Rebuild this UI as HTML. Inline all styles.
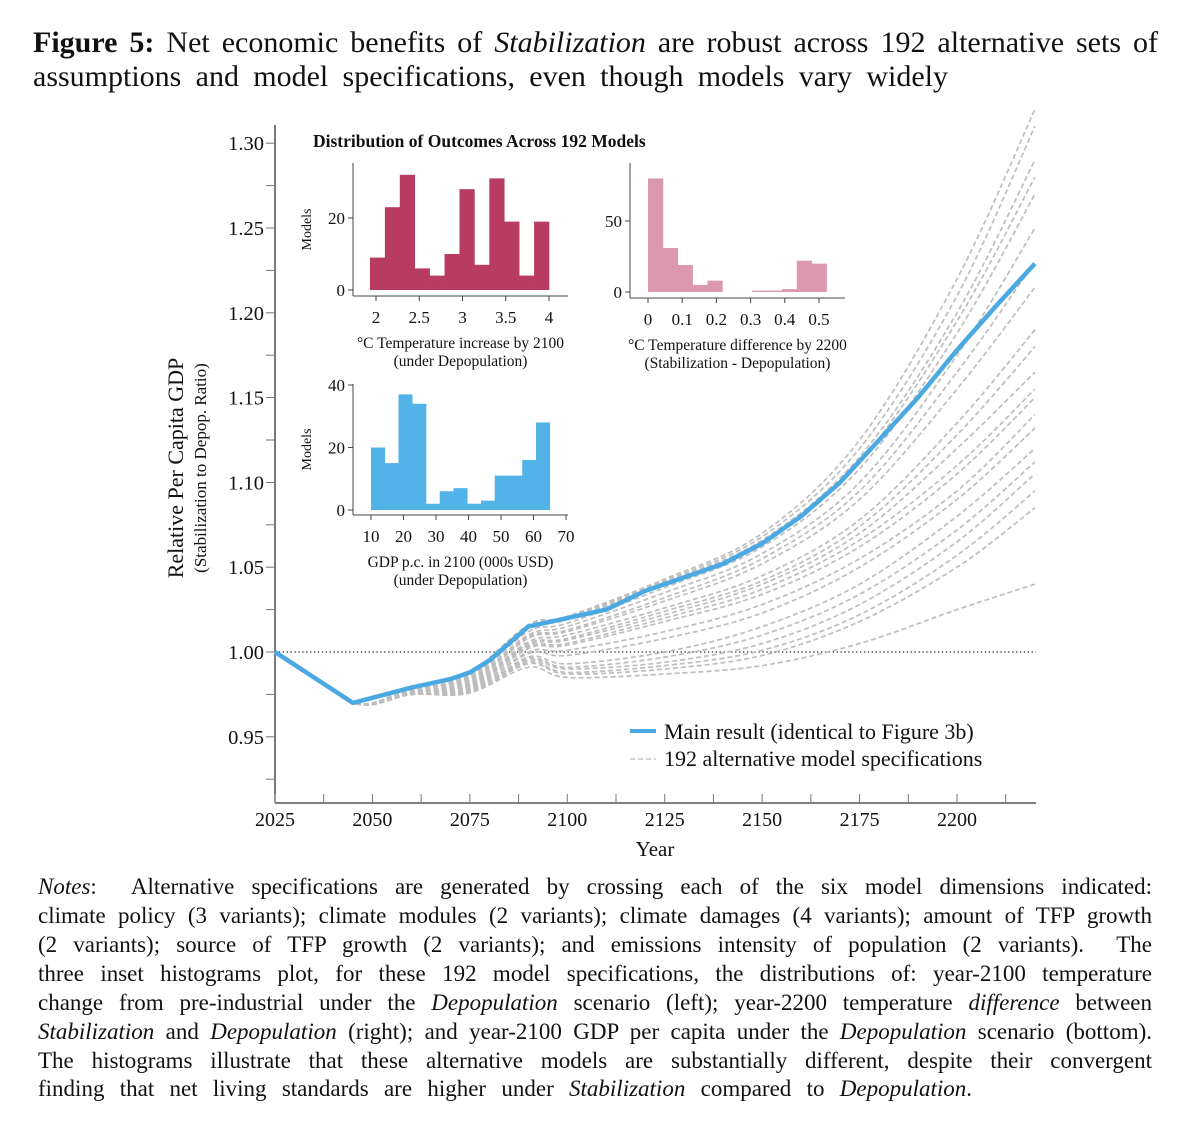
<!DOCTYPE html>
<html><head><meta charset="utf-8">
<style>
body{margin:0;background:#fff;width:1200px;height:1135px;overflow:hidden;position:relative;font-family:"Liberation Serif",serif;color:#111}
.ln{position:absolute;left:0;white-space:nowrap;text-align:justify;text-align-last:justify}
#title .ln{font-size:30px;left:33px;width:1125px}
#notes .ln{font-size:23px;left:38px;width:1114px}
svg{position:absolute;left:0;top:0}
svg text{font-family:"Liberation Serif",serif;fill:#111}
</style></head><body>
<div id="title">
<div class="ln" style="top:26px"><b>Figure 5:</b> Net economic benefits of <i>Stabilization</i> are robust across 192 alternative sets of</div>
<div class="ln" style="top:60px;width:915px">assumptions and model specifications, even though models vary widely</div>
</div>
<svg id="chart" width="1200" height="1135"></svg>
<div id="notes">
<div class="ln" style="top:874px"><i>Notes</i>: &nbsp;Alternative specifications are generated by crossing each of the six model dimensions indicated:</div>
<div class="ln" style="top:903px">climate policy (3 variants); climate modules (2 variants); climate damages (4 variants); amount of TFP growth</div>
<div class="ln" style="top:932px">(2 variants); source of TFP growth (2 variants); and emissions intensity of population (2 variants). &nbsp;The</div>
<div class="ln" style="top:961px">three inset histograms plot, for these 192 model specifications, the distributions of: year-2100 temperature</div>
<div class="ln" style="top:990px">change from pre-industrial under the <i>Depopulation</i> scenario (left); year-2200 temperature <i>difference</i> between</div>
<div class="ln" style="top:1019px"><i>Stabilization</i> and <i>Depopulation</i> (right); and year-2100 GDP per capita under the <i>Depopulation</i> scenario (bottom).</div>
<div class="ln" style="top:1048px">The histograms illustrate that these alternative models are substantially different, despite their convergent</div>
<div class="ln" style="top:1076px;width:934px">finding that net living standards are higher under <i>Stabilization</i> compared to <i>Depopulation</i>.</div>
</div>
<script>
// ---- main chart data ----
const mainYears=[2025,2045,2050,2060,2070,2075,2080,2090,2100,2110,2120,2130,2140,2150,2160,2170,2180,2190,2200,2210,2220];
const mainVals=[1,0.970,0.973,0.979,0.984,0.988,0.995,1.015,1.020,1.025,1.036,1.044,1.052,1.064,1.080,1.100,1.125,1.150,1.178,1.204,1.229];
const altYears=[2025,2045,2060,2075,2090,2100,2125,2150,2175,2200,2220];
const alt01=[1,0.970,0.979,0.988,1.016,1.021,1.043,1.070,1.125,1.220,1.320];
const alt02=[1,0.970,0.979,0.988,1.016,1.021,1.042,1.068,1.120,1.210,1.310];
const alt03=[1,0.970,0.979,0.987,1.015,1.020,1.041,1.066,1.115,1.200,1.290];
const alt04=[1,0.970,0.978,0.986,1.014,1.019,1.040,1.064,1.112,1.195,1.280];
const alt05=[1,0.970,0.978,0.985,1.012,1.017,1.038,1.062,1.108,1.188,1.270];
const alt06=[1,0.970,0.978,0.984,1.010,1.015,1.035,1.058,1.100,1.175,1.250];
const alt07=[1,0.970,0.977,0.983,1.009,1.013,1.032,1.055,1.095,1.165,1.230];
const alt08=[1,0.970,0.977,0.982,1.008,1.012,1.030,1.052,1.090,1.155,1.215];
const alt09=[1,0.970,0.977,0.981,1.006,1.010,1.026,1.045,1.078,1.135,1.190];
const alt10=[1,0.970,0.976,0.981,1.005,1.008,1.024,1.042,1.074,1.128,1.180];
const alt11=[1,0.970,0.976,0.980,1.004,1.007,1.022,1.040,1.070,1.120,1.165];
const alt12=[1,0.970,0.976,0.980,1.003,1.005,1.020,1.037,1.066,1.110,1.155];
const alt13=[1,0.970,0.976,0.979,1.002,1.004,1.018,1.034,1.062,1.105,1.150];
const alt14=[1,0.970,0.975,0.978,1.000,1.001,1.012,1.028,1.055,1.095,1.140];
const alt15=[1,0.970,0.975,0.978,0.999,0.998,1.008,1.023,1.050,1.090,1.132];
const alt16=[1,0.970,0.975,0.977,0.997,0.993,1.000,1.015,1.040,1.080,1.120];
const alt17=[1,0.970,0.975,0.977,0.996,0.991,0.997,1.010,1.034,1.072,1.112];
const alt18=[1,0.970,0.975,0.977,0.995,0.990,0.994,1.005,1.028,1.065,1.105];
const alt19=[1,0.970,0.975,0.976,0.994,0.988,0.992,1.001,1.022,1.057,1.095];
const alt20=[1,0.970,0.975,0.976,0.993,0.987,0.990,0.998,1.018,1.050,1.085];
const alt21=[1,0.970,0.975,0.976,0.991,0.985,0.987,0.992,1.005,1.025,1.040];
const altSeries=[alt01,alt02,alt03,alt04,alt05,alt06,alt07,alt08,alt09,alt10,alt11,alt12,alt13,alt14,alt15,alt16,alt17,alt18,alt19,alt20,alt21];
const yTicks=[0.95,1.00,1.05,1.10,1.15,1.20,1.25,1.30];
const yTickLabels=["0.95","1.00","1.05","1.10","1.15","1.20","1.25","1.30"];
const xTicks=[2025,2050,2075,2100,2125,2150,2175,2200];
// ---- histogram data ----
const h1Counts=[9,23,32,6,4,10,28,7,31,19,4,19];
const h1Start=1.93, h1Width=0.1725;
const h1Ticks=[2,2.5,3,3.5,4]; const h1TickLabels=["2","2.5","3","3.5","4"];
const h1YTicks=[0,20];
const h2Counts=[80,31,19,5,8,0,0,1,1,2,22,20];
const h2Start=0, h2Width=0.0435;
const h2Ticks=[0,0.1,0.2,0.3,0.4,0.5]; const h2TickLabels=["0","0.1","0.2","0.3","0.4","0.5"];
const h2YTicks=[0,50];
const h3Counts=[20,15,37,34,2,6,7,2,3,11,11,16,28];
const h3Start=10, h3Width=4.23;
const h3Ticks=[10,20,30,40,50,60,70]; const h3TickLabels=["10","20","30","40","50","60","70"];
const h3YTicks=[0,20,40];

const NS="http://www.w3.org/2000/svg";
const svg=document.getElementById('chart');
function mk(tag,attrs,parent){const e=document.createElementNS(NS,tag);for(const k in attrs)e.setAttribute(k,attrs[k]);(parent||svg).appendChild(e);return e;}
const X=y=>275+(y-2025)*(682/175);
const Y=v=>652-(v-1)*(84.8/0.05);
function smooth(pts){
  let d='M'+pts[0][0].toFixed(1)+','+pts[0][1].toFixed(1);
  for(let i=0;i<pts.length-1;i++){
    const p0=pts[Math.max(0,i-1)],p1=pts[i],p2=pts[i+1],p3=pts[Math.min(pts.length-1,i+2)];
    const k=(i===0)?0:1/6;
    const c1x=p1[0]+(p2[0]-p0[0])*k,c1y=p1[1]+(p2[1]-p0[1])*k;
    const c2x=p2[0]-(p3[0]-p1[0])*k,c2y=p2[1]-(p3[1]-p1[1])*k;
    d+='C'+c1x.toFixed(1)+','+c1y.toFixed(1)+' '+c2x.toFixed(1)+','+c2y.toFixed(1)+' '+p2[0].toFixed(1)+','+p2[1].toFixed(1);
  }
  return d;
}
const gAxes=mk('g',{});


mk('line',{x1:275,y1:125,x2:275,y2:803,stroke:'#333','stroke-width':1.3},gAxes);
mk('line',{x1:275,y1:803,x2:1036,y2:803,stroke:'#333','stroke-width':1.3},gAxes);
for(let v=0.925;v<=1.301;v+=0.025){mk('line',{x1:266,x2:275,y1:Y(v),y2:Y(v),stroke:'#777','stroke-width':1},gAxes);}
yTicks.forEach((v,i)=>{const t=mk('text',{x:264,y:Y(v)+7,'text-anchor':'end','font-size':20.5},gAxes);t.textContent=yTickLabels[i];
});
for(let yr=2025;yr<=2220;yr+=12.5){mk('line',{x1:X(yr),x2:X(yr),y1:794,y2:803,stroke:'#777','stroke-width':1},gAxes);}
xTicks.forEach(v=>{const t=mk('text',{x:X(v),y:826,'text-anchor':'middle','font-size':20},gAxes);t.textContent=String(v);
});
let t=mk('text',{x:655,y:856,'text-anchor':'middle','font-size':21},gAxes);t.textContent='Year';

t=mk('text',{x:0,y:0,'text-anchor':'middle','font-size':22,transform:'translate(183,468) rotate(-90)'},gAxes);t.textContent='Relative Per Capita GDP';

t=mk('text',{x:0,y:0,'text-anchor':'middle','font-size':17,transform:'translate(206,468) rotate(-90)'},gAxes);t.textContent='(Stabilization to Depop. Ratio)';

const ref=mk('line',{x1:275,x2:1036,y1:Y(1),y2:Y(1),stroke:'#222','stroke-width':1.3,'stroke-dasharray':'1.3 2.6'});


const gAlt=mk('g',{});


altSeries.forEach(s=>{
  const d=smooth(s.map((v,i)=>[X(altYears[i]),Y(v)]));
  const p=mk('path',{d:d,fill:'none',stroke:'#bdbdbd','stroke-width':1.7,'stroke-dasharray':'5 3'},gAlt);
  
  
});
const md=mainVals.map((v,i)=>(i?'L':'M')+X(mainYears[i]).toFixed(1)+','+Y(v).toFixed(1)).join('');
const mp=mk('path',{d:md,fill:'none',stroke:'#4aa8e2','stroke-width':4.5,'stroke-linejoin':'round'});


// legend
const lg=mk('g',{});


mk('line',{x1:630,x2:656,y1:731,y2:731,stroke:'#4aa8e2','stroke-width':4},lg);
t=mk('text',{x:664,y:739,'font-size':22},lg);t.textContent='Main result (identical to Figure 3b)';

mk('line',{x1:630,x2:656,y1:759,y2:759,stroke:'#c8c8c8','stroke-width':1.5,'stroke-dasharray':'5 3'},lg);
t=mk('text',{x:664,y:766,'font-size':22},lg);t.textContent='192 alternative model specifications';

// inset title
t=mk('text',{x:313,y:147,'font-size':17.5,'font-weight':'bold'});t.textContent='Distribution of Outcomes Across 192 Models';

function hist(name,counts,start,w,xt,xtl,yt,ax,color,axisX,axisTop,axisRight,base,x0,x1,y0,yv1,yPix1,l1,l2,yLab){
  const g=mk('g',{});
  
  
  const HX=v=>x0+(v-xt[0])*(x1-x0)/(xt[xt.length-1]-xt[0]);
  const HY=v=>y0-v*(y0-yPix1)/yv1;
  counts.forEach((c,i)=>{if(c<=0)return;const xa=HX(start+i*w),xb=HX(start+(i+1)*w);
    const r=mk('rect',{x:xa,y:HY(c),width:xb-xa+0.3,height:HY(0)-HY(c),fill:color},g);
    });
  mk('line',{x1:axisX,x2:axisX,y1:axisTop,y2:base,stroke:'#444','stroke-width':1},g);
  mk('line',{x1:axisX,x2:axisRight,y1:base,y2:base,stroke:'#444','stroke-width':1},g);
  xt.forEach((v,i)=>{mk('line',{x1:HX(v),x2:HX(v),y1:base,y2:base+5,stroke:'#444'},g);
    const tt=mk('text',{x:HX(v),y:base+27,'text-anchor':'middle','font-size':17},g);tt.textContent=xtl[i];
    });
  yt.forEach(v=>{mk('line',{x1:axisX-5,x2:axisX,y1:HY(v),y2:HY(v),stroke:'#444'},g);
    const tt=mk('text',{x:axisX-8,y:HY(v)+6,'text-anchor':'end','font-size':17},g);tt.textContent=String(v);
    });
  const cx=(axisX+axisRight)/2;
  let a=mk('text',{x:cx,y:base+52,'text-anchor':'middle','font-size':15.5},g);a.textContent=l1;
  
  a=mk('text',{x:cx,y:base+70,'text-anchor':'middle','font-size':15.5},g);a.textContent=l2;
  
  if(yLab){a=mk('text',{x:0,y:0,'text-anchor':'middle','font-size':14,transform:`translate(${axisX-42},${(axisTop+base)/2}) rotate(-90)`},g);a.textContent='Models';
  }
}
hist('hist-temperature-2100',h1Counts,h1Start,h1Width,h1Ticks,h1TickLabels,h1YTicks,0,'#b83b62',353,163,568,296,376,549,290,20,218,'°C Temperature increase by 2100','(under Depopulation)',true);
hist('hist-temperature-difference-2200',h2Counts,h2Start,h2Width,h2Ticks,h2TickLabels,h2YTicks,0,'#dc98ae',630,163,845,298,648,819,292,50,221,'°C Temperature difference by 2200','(Stabilization - Depopulation)',false);
hist('hist-gdp-2100',h3Counts,h3Start,h3Width,h3Ticks,h3TickLabels,h3YTicks,0,'#52b3e8',353,384,568,515,371,566,510,40,385,'GDP p.c. in 2100 (000s USD)','(under Depopulation)',true);
</script>
</body></html>
